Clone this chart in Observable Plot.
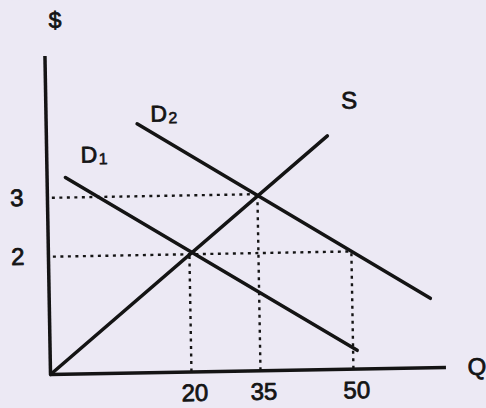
<!DOCTYPE html>
<html>
<head>
<meta charset="utf-8">
<script src="https://cdn.jsdelivr.net/npm/d3@7"></script>
<script src="https://cdn.jsdelivr.net/npm/@observablehq/plot@0.6"></script>
<style>
  html, body { margin: 0; padding: 0; background: #ece9f4; overflow: hidden; }
  #chart { width: 486px; height: 408px; }
</style>
</head>
<body>
<div id="chart"></div>
<script>
// Tick labels
const xTicks = [20, 35, 50];
const yTicks = [2, 3];

// Curves (quantity q, price p)
const supply  = [{q: 0, p: 0}, {q: 46.45, p: 3.97}];
const demand1 = [{q: 2.6, p: 3.34}, {q: 50.66, p: 0.32}];
const demand2 = [{q: 12.9, p: 4.23}, {q: 62.6, p: 1.18}];

// Guide points (equilibria and shortage quantity)
const guidePoints = [{q: 20, p: 2}, {q: 35, p: 3}, {q: 50, p: 2}];
const priceGuides = [{p: 3, q: 35}, {p: 2, q: 50}];

// Curve labels
const curveLabels = [
  {name: "D", sub: "1", q: 4.8, p: 3.71},
  {name: "D", sub: "2", q: 14.8, p: 4.385}
];
const supplyLabel = [{name: "S", q: 50.05, p: 4.555}];
const dollarTitle = [{name: "$", q: 1.5, p: 6.01}];
const quantityTitle = [{name: "Q", q: 68.4, p: 0}];

// The schematic quantity axis is not evenly spaced: knots of the drawn axis
const qKnots = [0, 20, 35, 50, 65];
const qDrawn = [0, 23.14, 34.47, 49.73, 65];
const warp = d3.scaleLinear().domain(qKnots).range(qDrawn);

const ink = "#141414";
const font = "'Liberation Sans', Arial, Helvetica, sans-serif";
const bold = {fill: ink, stroke: ink, strokeWidth: 0.8};

const chart = Plot.plot({
  width: 486,
  height: 408,
  marginLeft: 50,
  marginRight: 40,
  marginTop: 56,
  marginBottom: 34,
  x: {domain: [0, 65], transform: warp, axis: null},
  y: {domain: [0, 5.4], axis: null},
  style: {background: "#ece9f4", fontFamily: font, color: ink, overflow: "visible"},
  marks: [
    // dotted guides
    Plot.ruleY(priceGuides, {y: "p", x1: 0.7, x2: "q", stroke: ink, strokeWidth: 2.4, strokeDasharray: "3,4.5"}),
    Plot.ruleX(guidePoints, {x: "q", y1: 0, y2: "p", stroke: ink, strokeWidth: 2.4, strokeDasharray: "3,4.5"}),
    // axes lines
    Plot.ruleX([0], {y1: 0, y2: 5.4, stroke: ink, strokeWidth: 3.5}),
    Plot.ruleY([0], {x1: 0, x2: 65, stroke: ink, strokeWidth: 3.5}),
    // curves
    Plot.line(supply,  {x: "q", y: "p", stroke: ink, strokeWidth: 3.5, strokeLinecap: "round"}),
    Plot.line(demand1, {x: "q", y: "p", stroke: ink, strokeWidth: 3.5, strokeLinecap: "round"}),
    Plot.line(demand2, {x: "q", y: "p", stroke: ink, strokeWidth: 3.5, strokeLinecap: "round"}),
    // tick labels
    Plot.text(xTicks, {x: d => d, frameAnchor: "bottom", lineAnchor: "bottom", dy: 29, dx: 3, text: d => String(d), fontSize: 24, ...bold}),
    Plot.text(yTicks, {y: d => d, frameAnchor: "left", dx: -24, textAnchor: "end", text: d => String(d), fontSize: 24, ...bold}),
    // curve labels
    Plot.text(curveLabels, {x: "q", y: "p", text: "name", textAnchor: "start", fontSize: 23, ...bold}),
    Plot.text(curveLabels, {x: "q", y: "p", text: "sub", textAnchor: "start", dx: 18, dy: 4, fontSize: 16, ...bold, strokeWidth: 0.6}),
    Plot.text(supplyLabel, {x: "q", y: "p", text: "name", fontSize: 24, ...bold}),
    Plot.text(dollarTitle, {x: "q", y: "p", text: "name", fontSize: 23, ...bold}),
    Plot.text(quantityTitle, {x: "q", y: "p", text: "name", textAnchor: "start", fontSize: 24, ...bold})
  ]
});

chart.style.transform = "rotate(-1deg)";
chart.style.transformOrigin = "50px 374px";
document.getElementById("chart").append(chart);
</script>
</body>
</html>
